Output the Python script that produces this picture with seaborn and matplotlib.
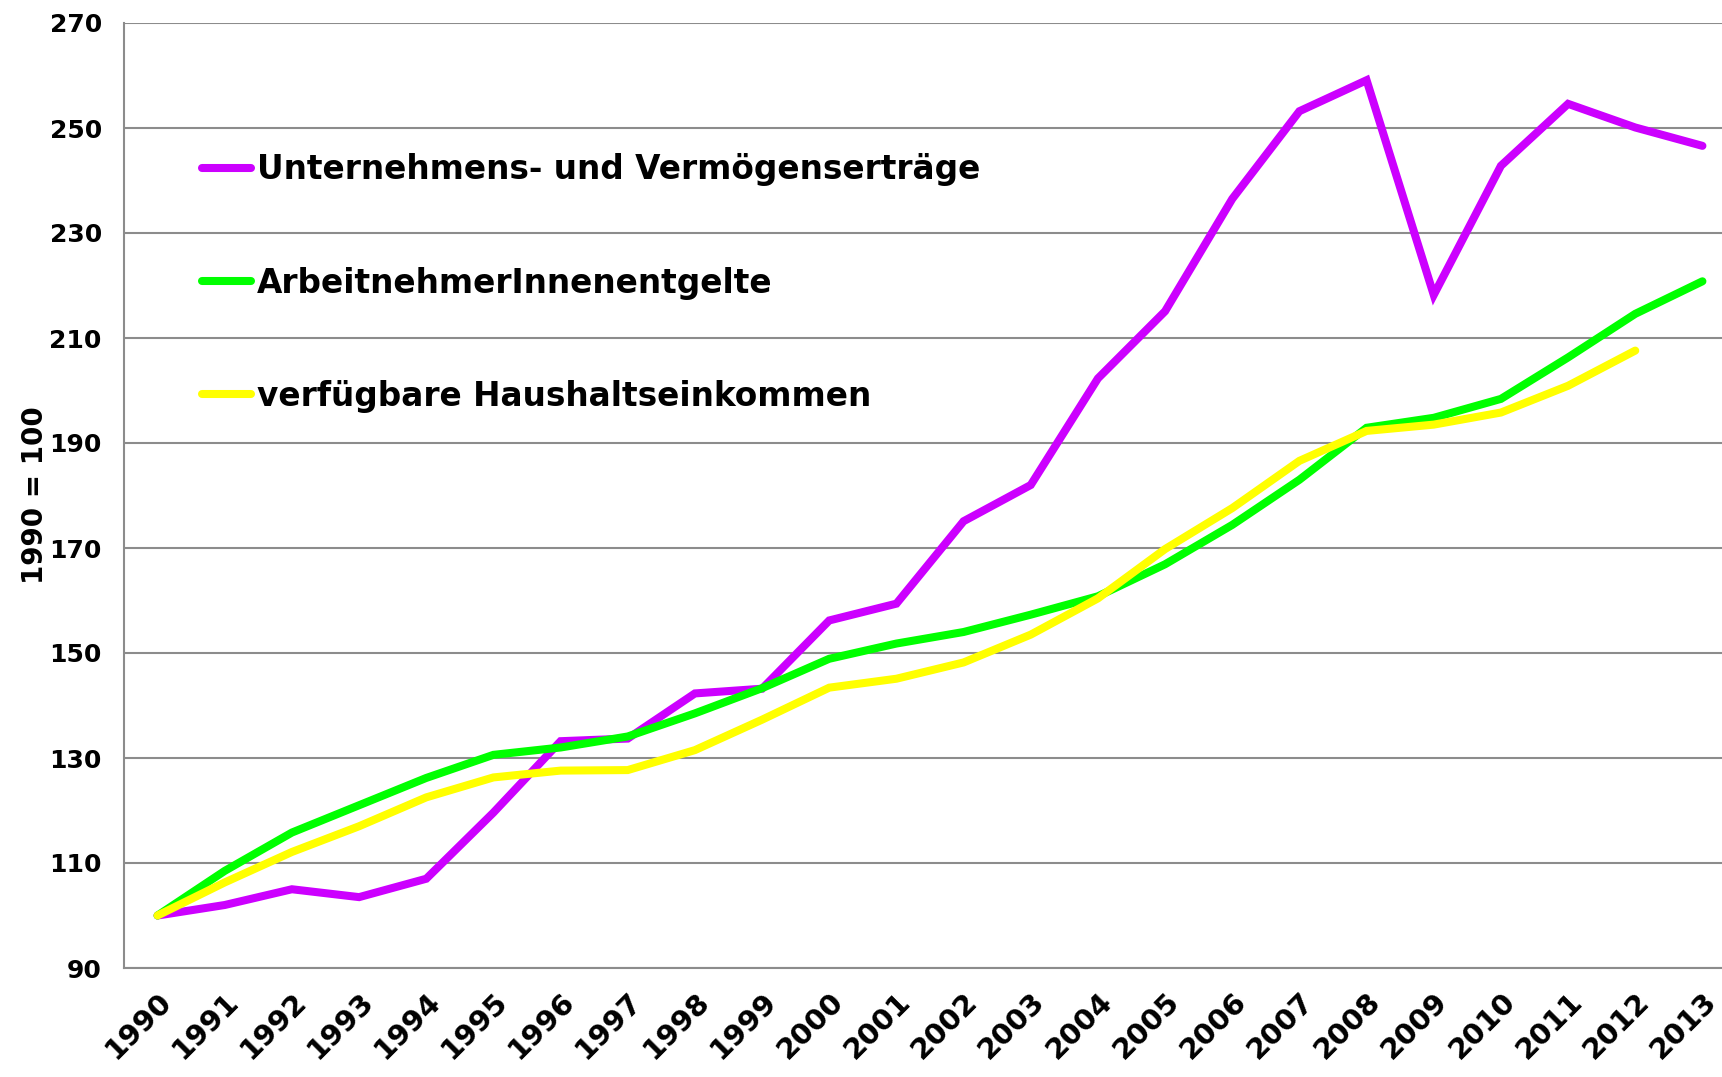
import numpy as np
import pandas as pd
import matplotlib
matplotlib.use("Agg")
import matplotlib.pyplot as plt
import seaborn as sns

years = [str(y) for y in range(1990, 2014)]

# 1990 = 100
ertraege = [100.0, 102.0, 105.0, 103.5, 107.0, 119.6, 133.2, 133.7, 142.3, 143.2,
            156.2, 159.4, 175.1, 182.0, 202.3, 215.1, 236.5, 253.2, 259.1, 218.2,
            242.8, 254.6, 250.1, 246.6]
entgelte = [100.0, 108.5, 115.8, 121.0, 126.2, 130.6, 132.0, 134.1, 138.5, 143.3,
            148.9, 151.8, 154.0, 157.3, 160.8, 166.9, 174.4, 183.0, 192.9, 194.8,
            198.4, 206.3, 214.6, 220.8]
haushalt = [100.0, 106.3, 112.1, 117.0, 122.5, 126.3, 127.6, 127.7, 131.5, 137.3,
            143.4, 145.1, 148.2, 153.5, 160.4, 169.8, 177.6, 186.6, 192.3, 193.5,
            195.8, 200.9, 207.6, np.nan]

labels = ["Unternehmens- und Vermögenserträge",
          "ArbeitnehmerInnenentgelte",
          "verfügbare Haushaltseinkommen"]
colors = ["#CC00FF", "#00FF00", "#FFFF00"]

sns.set_style("white")
plt.rcParams['font.family'] = ['DejaVu Sans']
plt.rcParams['text.color'] = 'black'
plt.rcParams['axes.labelcolor'] = 'black'
plt.rcParams['xtick.labelcolor'] = 'black'
plt.rcParams['ytick.labelcolor'] = 'black'

fig = plt.figure(figsize=(17.22, 10.77), dpi=100)
ax = fig.add_axes([124 / 1722, 109 / 1077, (1736 - 124) / 1722, (968 - 23) / 1077])

pos = np.arange(len(years))
for vals, lab, col in zip([ertraege, entgelte, haushalt], labels, colors):
    sns.lineplot(x=pos, y=vals, ax=ax, color=col, linewidth=5.8, label=lab,
                 solid_capstyle="round", solid_joinstyle="miter")

ax.set_xlim(-0.5, 23.5)
ax.set_ylim(90, 270)
ax.set_yticks(range(90, 271, 20))
ax.set_xticks(pos)
ax.set_xticklabels(years, rotation=45, ha="right", rotation_mode="anchor",
                   fontsize=21, fontweight="bold")
ax.set_xticks(np.arange(-0.5, 23.5, 1.0), minor=True)
ax.tick_params(axis="x", which="major", length=0, pad=14)
ax.tick_params(axis="x", which="minor", length=10, width=1.5, color="#8c8c8c", direction="out")
ax.tick_params(axis="y", length=10, width=1.5, color="#8c8c8c", direction="out",
               labelsize=18, pad=6)
for t in ax.get_yticklabels():
    t.set_fontweight("bold")

ax.yaxis.grid(True, color="#8c8c8c", linewidth=1.5)
ax.set_axisbelow(True)
for side in ["top", "right"]:
    ax.spines[side].set_visible(False)
for side in ["left", "bottom"]:
    ax.spines[side].set_color("#8c8c8c")
    ax.spines[side].set_linewidth(1.5)

ax.set_ylabel("1990 = 100", fontsize=20, fontweight="bold", labelpad=0)
ax.set_xlabel("")

leg = ax.legend(loc="upper left", bbox_to_anchor=(0.04, 0.876), frameon=False,
                fontsize=23.6, handlelength=1.5, handletextpad=0.2, labelspacing=2.45,
                borderaxespad=0)
for t in leg.get_texts():
    t.set_fontweight("bold")

fig.savefig("out.png", dpi=100)
